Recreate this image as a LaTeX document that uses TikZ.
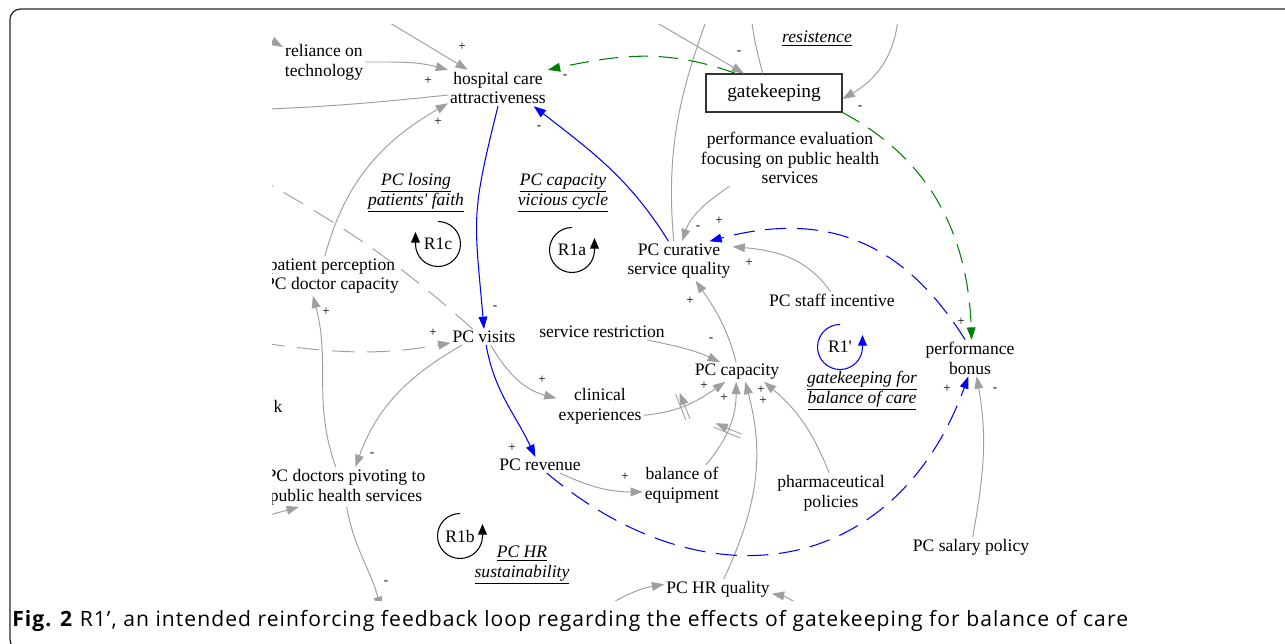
\documentclass[tikz,border=0pt]{standalone}
\usepackage{fontspec}
\setmainfont{Liberation Serif}
\newfontfamily\capfont[LetterSpace=5]{Open Sans}
\usetikzlibrary{arrows.meta,decorations.markings}
\tikzset{
    var/.style={inner sep=1pt,align=center,font=\fontsize{10pt}{11.3pt}\selectfont},
    loopname/.style={var,font=\fontsize{10pt}{11.3pt}\selectfont\itshape},
    sgn/.style={inner sep=0pt,font=\fontsize{7.5pt}{7.5pt}\selectfont},
    lnk/.style={draw=gray!75,line width=0.55pt,-{Triangle[length=7pt,width=5pt]}},
    blu/.style={lnk,draw=blue,line width=0.6pt},
    blud/.style={blu,dash pattern=on 12pt off 6pt},
    grn/.style={lnk,draw=green!50!black,line width=0.6pt,dash pattern=on 11pt off 6pt},
    gryd/.style={lnk,dash pattern=on 13pt off 7pt},
    looparr/.style={line width=0.6pt,-{Triangle[length=6pt,width=5pt]}},
    dmark/.style={postaction={decorate,decoration={markings,mark=at position #1 with {\draw[gray!75,line width=0.5pt] (-1.2pt,-8pt) -- (-1.2pt,8pt) (1.2pt,-8pt) -- (1.2pt,8pt);}}}}
}
\begin{document}
\begin{tikzpicture}[x=0.02cm,y=-0.02cm]
    \useasboundingbox (0,0) rectangle (1285,643);
    \draw[black!85,line width=0.7pt,rounded corners=6pt] (10,9) rectangle (1330,650);
    \node[anchor=base west,inner sep=0pt,font=\capfont\fontsize{12pt}{14pt}\selectfont] (capt) at (12,626)
        {\textbf{Fig. 2} R1’, an intended reinforcing feedback loop regarding the effects of gatekeeping for balance of care};
    \begin{scope}
    \clip (272,24) rectangle (1100,600);
    \node[var] (rel) at (324,62) {reliance on\\technology};
    \node[var] (hca) at (498,88) {hospital care\\attractiveness};
    \node[draw=black!80,line width=0.6pt,minimum width=2.72cm,minimum height=0.76cm,font=\fontsize{11pt}{13pt}\selectfont] (gk) at (774,93) {gatekeeping};
    \node[loopname] (res) at (817,39) {\underline{resistence}};
    \node[var] (pe) at (790,158) {performance evaluation\\focusing on public health\\services};
    \node[loopname] (lpf) at (416,193) {\underline{PC losing}\\\underline{patients\textquotesingle{} faith}};
    \node[loopname] (lvc) at (563,193) {\underline{PC capacity}\\\underline{vicious cycle}};
    \node[var] (curq) at (679,261) {PC curative\\service quality};
    \node[var] (psi) at (832,300) {PC staff incentive};
    \node[var] (ppc) at (332,276) {patient perception\\PC doctor capacity};
    \node[var] (sr) at (602,332) {service restriction};
    \node[var] (vis) at (484,337) {PC visits};
    \node[var] (cap) at (737,372) {PC capacity};
    \node[var] (pb) at (970,358) {performance\\bonus};
    \node[loopname] (lgb) at (862,391) {\underline{gatekeeping for}\\\underline{balance of care}};
    \node[var] (kk) at (278,406) {k};
    \node[var] (ce) at (600,406) {clinical\\experiences};
    \node[var] (rev) at (540,465) {PC revenue};
    \node[var] (boe) at (682,485) {balance of\\equipment};
    \node[var] (pha) at (831,493) {pharmaceutical\\policies};
    \node[var] (piv) at (346,487) {PC doctors pivoting to\\public health services};
    \node[var] (sal) at (971,547) {PC salary policy};
    \node[loopname] (lhr) at (522,565) {\underline{PC HR}\\\underline{sustainability}};
    \node[var] (hrq) at (718,589) {PC HR quality};

    \coordinate (t1) at (390,23);
    \coordinate (t2) at (652,20);
    \coordinate (t3) at (713,2);
    \coordinate (t4) at (750,2);
    \coordinate (t5) at (898,18);
    \coordinate (l1) at (240,110);
    \coordinate (l2) at (245,170);
    \coordinate (l3) at (262,343);
    \coordinate (l4) at (262,517);
    \coordinate (l5) at (258,33);
    \coordinate (b1) at (381,609);
    \coordinate (b2) at (596,612);
    \coordinate (b3) at (806,604);

    \foreach \nm/\txt/\x/\y/\dir/\clr in {r1c/R1c/438/244/-1/black, r1a/R1a/572/250/1/black, r1b/R1b/460/536/1/black, r1p/R1\textquotesingle/840/347/1/blue}{
        \node[var] (\nm) at (\x,\y) {\txt};
        \draw[looparr,\clr] (\nm.center) ++(90:0.45cm) arc[start angle=90,delta angle=\dir*270,radius=0.45cm] -- ++(0,-12);
    }

    \draw[lnk] (t1) -- (hca);
    \draw[lnk] (l5) -- (rel.160);
    \draw[lnk] (rel.east) to[out=0,in=165] (hca.160);
    \draw[lnk] (hca.188) to[out=186,in=2] (l1);
    \draw[lnk] (ppc.110) to[out=75,in=210] (hca.197);
    \draw[lnk] (curq.105) to[out=95,in=-110] (t3);
    \draw[lnk] (gk.120) to[out=105,in=-85] (t4);
    \draw[lnk] (t2) -- (gk.147);
    \draw[lnk] (t5) to[out=-95,in=30] (gk.-5);
    \draw[lnk] (psi.100) to[out=125,in=-5] (curq.15);
    \draw[lnk] (pe.205) to[out=215,in=70] (curq.82);
    \draw[lnk] (cap.95) to[out=105,in=-55] (curq.-50);
    \draw[lnk] (sr.-10) to[out=-12,in=155] (cap.150);
    \draw[lnk,dmark=0.45] (ce.-12) to[out=5,in=215] (cap.-140);
    \draw[lnk,dmark=0.45] (boe.40) to[out=50,in=-90] (cap.-95);
    \draw[lnk] (hrq.60) to[out=65,in=-75] (cap.-50);
    \draw[lnk] (pha.95) to[out=112,in=-40] (cap.-20);
    \draw[lnk] (sal.80) to[out=80,in=-80] (pb.-70);
    \draw[lnk] (vis.-50) to[out=-60,in=165] (ce.170);
    \draw[lnk] (rev.-22) to[out=-25,in=180] (boe.190);
    \draw[lnk] (vis.-160) to[out=210,in=70] (piv.65);
    \draw[lnk] (piv.117) to[out=110,in=-75] (ppc.-134);
    \draw[lnk] (l4) -- (piv.-157);
    \draw[lnk] (piv.-88) to[out=-80,in=105] (b1);
    \draw[lnk] (b2) to[out=30,in=190] (hrq.175);
    \draw[lnk] (b3) to[out=175,in=-10] (hrq.-5);
    \draw[gryd] (vis.145) to[out=138,in=-30] (l2);
    \draw[gryd] (l3) to[out=-8,in=190] (vis.190);

    \draw[blu] (hca.south) to[out=-104,in=95,looseness=1.3] (vis.north);
    \draw[blu] (curq.118) to[out=122,in=-38] (hca.-27);
    \draw[blu] (vis.-75) to[out=-80,in=115] (rev.120);
    \draw[blud] (pb.105) to[out=122,in=15,looseness=1.1] (curq.33);
    \draw[blud] (rev.-50) to[out=-40,in=-110,looseness=1.25] (pb.265);
    \draw[grn] (gk.153) to[out=160,in=12] (hca.20);
    \draw[grn] (gk.south east) to[out=-28,in=92] (pb.85);

    \foreach \x/\y/\sg [count=\i] in {462/47/+, 428/81/+, 438/122/+, 565/77/-, 539/128/-, 739/53/-, 860/108/-,
        495/308/-, 698/228/-, 719/221/+, 749/263/+, 690/301/+, 711/340/-, 704/386/+, 724/398/+, 761/390/+,
        763/401/+, 961/322/+, 947/389/+, 995/390/-, 433/333/+, 326/312/+, 542/380/+, 512/448/+, 372/455/-,
        625/477/+, 386/583/-}
        \node[sgn] (sg\i) at (\x,\y) {\sg};
    \end{scope}
\end{tikzpicture}
\end{document}
